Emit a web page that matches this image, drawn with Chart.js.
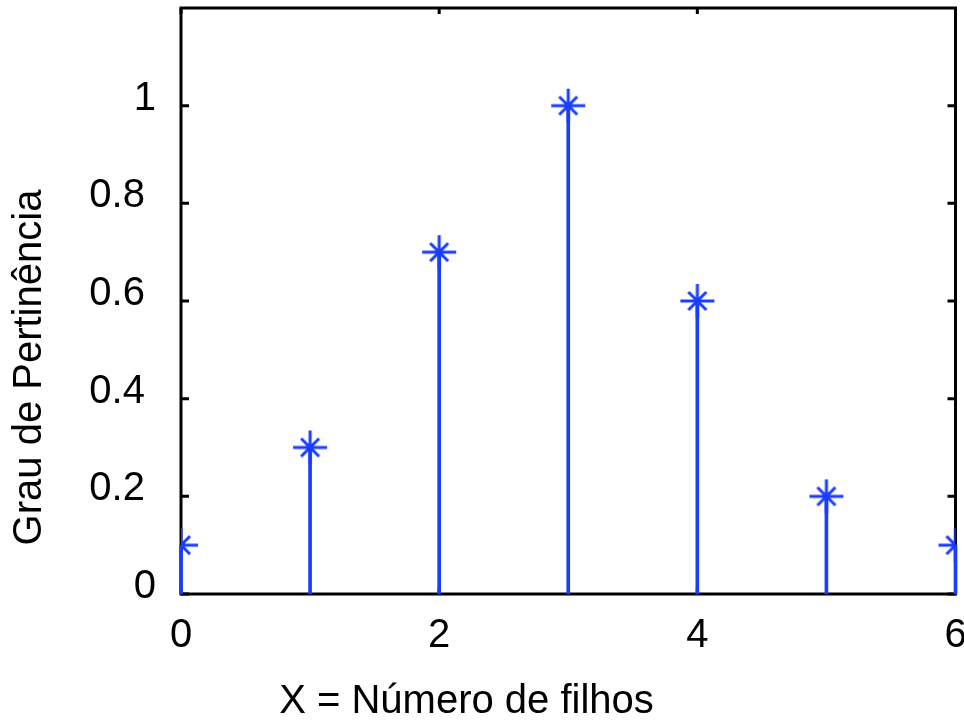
<!DOCTYPE html>
<html><head><meta charset="utf-8">
<script src="https://cdn.jsdelivr.net/npm/chart.js@4/dist/chart.umd.min.js"></script>
<style>html,body{margin:0;padding:0;background:#fff}#wrap{width:964px;height:723px}</style>
</head><body><div id="wrap"><canvas id="c" width="964" height="723"></canvas></div>
<script>
// ---- data ----
const xValues = [0, 1, 2, 3, 4, 5, 6];
const membership = [0.1, 0.3, 0.7, 1.0, 0.6, 0.2, 0.1];
const xTickValues = [0, 2, 4, 6];
const xTickLabels = ['0', '2', '4', '6'];
const yTickValues = [0, 0.2, 0.4, 0.6, 0.8, 1];
const yTickLabels = ['0', '0.2', '0.4', '0.6', '0.8', '1'];
const xTitle = 'X = Número de filhos';
const yTitle = 'Grau de Pertinência';

const BLUE = '#1a3dff';
const FONT = '"Liberation Sans", Arial, Helvetica, sans-serif';

const points = xValues.map((x, i) => ({x: x, y: membership[i]}));

// asterisk marker image (MATLAB-like '*')
function makeAsterisk() {
  const c = document.createElement('canvas');
  c.width = 40; c.height = 40;
  const g = c.getContext('2d');
  g.strokeStyle = BLUE; g.lineWidth = 3; g.lineCap = 'butt';
  const cx = 20, cy = 20, r = 17, d = 9;
  g.beginPath();
  g.moveTo(cx - r, cy); g.lineTo(cx + r, cy);
  g.moveTo(cx, cy - r); g.lineTo(cx, cy + r);
  g.moveTo(cx - d, cy - d); g.lineTo(cx + d, cy + d);
  g.moveTo(cx - d, cy + d); g.lineTo(cx + d, cy - d);
  g.stroke();
  return c;
}
const asterisk = makeAsterisk();

const boxPlugin = {
  id: 'box',
  beforeDatasetsDraw(chart) {
    const {ctx, chartArea: a, scales} = chart;
    ctx.save();
    ctx.strokeStyle = '#000';
    ctx.lineWidth = 3;
    ctx.strokeRect(a.left, a.top, a.right - a.left, a.bottom - a.top);
    ctx.beginPath();
    yTickValues.forEach(v => {
      const py = scales.y.getPixelForValue(v);
      ctx.moveTo(a.left, py); ctx.lineTo(a.left + 8, py);
      ctx.moveTo(a.right, py); ctx.lineTo(a.right - 8, py);
    });
    xTickValues.forEach(v => {
      const px = scales.x.getPixelForValue(v);
      ctx.moveTo(px, a.top); ctx.lineTo(px, a.top + 6);
      ctx.moveTo(px, a.bottom); ctx.lineTo(px, a.bottom - 6);
    });
    ctx.stroke();
    ctx.restore();
  },
  afterDraw(chart) {
    const ctx = chart.ctx;
    ctx.save();
    ctx.fillStyle = '#000';
    ctx.font = '40px ' + FONT;
    ctx.textAlign = 'center';
    ctx.textBaseline = 'alphabetic';
    ctx.fillText(xTitle, 466.5, 713);
    ctx.translate(41, 367.5);
    ctx.rotate(-Math.PI / 2);
    ctx.fillText(yTitle, 0, 0);
    ctx.restore();
  }
};

new Chart(document.getElementById('c'), {
  type: 'bar',
  data: {
    datasets: [
      {
        type: 'scatter',
        data: points,
        pointStyle: asterisk,
        pointRadius: 17,
        pointHoverRadius: 17,
        borderColor: BLUE,
        backgroundColor: BLUE,
        showLine: false,
        clip: 0,
        order: 0
      },
      {
        type: 'bar',
        data: points,
        backgroundColor: BLUE,
        borderWidth: 0,
        barThickness: 3,
        grouped: false,
        clip: 3,
        order: 1
      }
    ]
  },
  options: {
    responsive: false,
    animation: false,
    devicePixelRatio: 1,
    layout: {autoPadding: false, padding: {top: 8, right: 8.5, left: 0, bottom: 0}},
    plugins: {legend: {display: false}, tooltip: {enabled: false}},
    scales: {
      x: {
        type: 'linear',
        min: 0, max: 6,
        offset: false,
        grid: {display: false, drawTicks: false},
        border: {display: false},
        afterBuildTicks(scale) { scale.ticks = xTickValues.map(v => ({value: v})); },
        ticks: {
          color: '#000',
          font: {family: FONT, size: 40},
          padding: 18,
          maxRotation: 0,
          callback: (v, i) => xTickLabels[i]
        },
        afterFit(scale) { scale.height = 129; scale.paddingLeft = 0; scale.paddingRight = 0; }
      },
      y: {
        type: 'linear',
        min: 0, max: 1.2,
        grid: {display: false, drawTicks: false},
        border: {display: false},
        afterBuildTicks(scale) { scale.ticks = yTickValues.map(v => ({value: v})); },
        ticks: {
          color: '#000',
          font: {family: FONT, size: 40, lineHeight: '14px'},
          padding: 25,
          callback: (v, i) => {
            const t = yTickLabels[i];
            return [t.length > 1 ? t + ' ' : t, ''];
          }
        },
        afterFit(scale) { scale.width = 181; scale.paddingTop = 0; scale.paddingBottom = 0; }
      }
    }
  },
  plugins: [boxPlugin]
});
</script>
</body></html>
